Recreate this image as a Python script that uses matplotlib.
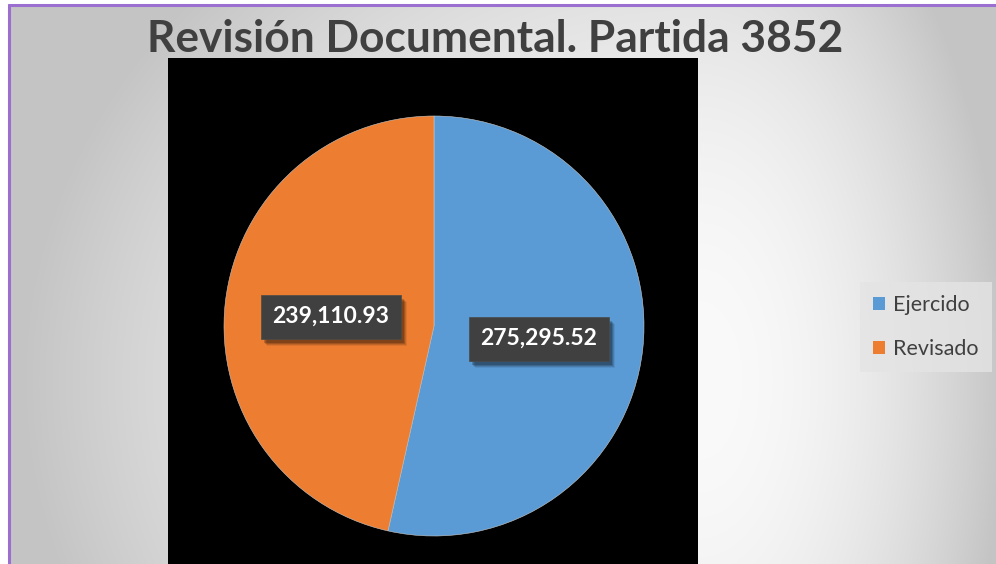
import numpy as np
import matplotlib
matplotlib.use("Agg")
import matplotlib.pyplot as plt
from matplotlib.patches import Patch, Rectangle

# ---- data ----
title = "Revisión Documental. Partida 3852"
categories = ["Ejercido", "Revisado"]
values = [275295.52, 239110.93]
value_labels = ["275,295.52", "239,110.93"]
colors = ["#5B9BD5", "#ED7D31"]

W, H = 996, 564
fig = plt.figure(figsize=(W / 100, H / 100), dpi=100)
fig.patch.set_facecolor("white")

# ---- background gradient ----
bg = fig.add_axes([0, 0, 1, 1], zorder=0)
yy, xx = np.mgrid[0:H, 0:W]
cx, cy = 700.0, 380.0
rx = np.where(xx < cx, 890.0, 400.0)
d = np.sqrt(((xx - cx) / rx) ** 2 + ((yy - cy) / 760.0) ** 2)
v = 250 - 52 * np.clip(d / 0.75, 0, 1.1) ** 2
v = np.clip(v, 196, 252) / 255.0
img = np.dstack([v, v, v])
img[:4, :, :] = 1.0
img[:, :8, :] = 1.0
bg.imshow(img, extent=[0, W, H, 0], aspect="auto", interpolation="bilinear")
bg.set_xlim(0, W)
bg.set_ylim(H, 0)
bg.axis("off")
border = "#9B6FCF"
bg.plot([8, W], [4.5, 4.5], color=border, lw=2.2, solid_capstyle="butt")
bg.plot([8.5, 8.5], [4, H], color=border, lw=2.2, solid_capstyle="butt")

# ---- pie axes (black plot area) ----
left, right, top, bottom = 168, 698, 58, 564
ax = fig.add_axes([left / W, 1 - bottom / H, (right - left) / W, (bottom - top) / H], zorder=1)
ax.set_facecolor("black")
wedges, _ = ax.pie(values, colors=colors, startangle=90, counterclock=False,
                   radius=1.0, frame=True,
                   wedgeprops=dict(edgecolor="#c8c8c8", linewidth=0.4))
ax.set_aspect("auto")
pcx, pcy, R = 434.0, 326.0, 210.0
ax.set_xlim((left - pcx) / R, (right - pcx) / R)
ax.set_ylim((pcy - bottom) / R, (pcy - top) / R)
ax.set_xticks([])
ax.set_yticks([])
for s in ax.spines.values():
    s.set_visible(False)

# data labels
offsets = [(0.50, -0.06), (-0.49, 0.045)]
label_texts = []
for w, lab, (ox, oy) in zip(wedges, value_labels, offsets):
    tx = ax.text(ox, oy, lab, ha="center", va="center", fontsize=16.5, fontweight="bold",
                 family="Lato", color="white", zorder=5,
                 bbox=dict(boxstyle="square,pad=0.5", fc="#404040", ec="#4a4a4a", lw=0.5))
    label_texts.append(tx)

# ---- title ----
t = fig.text(495 / W, 1 - 39 / H, title, ha="center", va="center",
             fontsize=30, fontweight="bold", family="Lato", color="#404040")
fig.canvas.draw()
bb = t.get_window_extent()
t.set_fontsize(30 * 695 / bb.width)

# soft shadows behind the label boxes
fig.canvas.draw()
inv = ax.transData.inverted()
for tx in label_texts:
    ext = tx.get_bbox_patch().get_window_extent()
    for dx, dy, a in [(6, -7, 0.08), (5, -6, 0.12), (4, -5, 0.16), (3, -4, 0.2)]:
        (x0, y0), (x1, y1) = inv.transform([(ext.x0 + dx, ext.y0 + dy), (ext.x1 + dx, ext.y1 + dy)])
        ax.add_patch(Rectangle((x0, y0), x1 - x0, y1 - y0, facecolor=(0, 0, 0, a),
                               edgecolor="none", zorder=4))

# ---- legend ----
handles = [Patch(facecolor=c, edgecolor="none") for c in colors]
leg = fig.legend(handles, categories, loc="center left",
                 bbox_to_anchor=(860 / W, 1 - 327 / H), frameon=True,
                 prop=dict(family="Lato", size=15.5),
                 handlelength=0.55, handleheight=0.55, handletextpad=0.4,
                 labelspacing=1.1, borderpad=0.6, borderaxespad=0.0, fancybox=False)
leg.get_frame().set_facecolor("#e4e4e4")
leg.get_frame().set_edgecolor("none")
for txt in leg.get_texts():
    txt.set_color("#404040")

fig.savefig("out.png", dpi=100)
